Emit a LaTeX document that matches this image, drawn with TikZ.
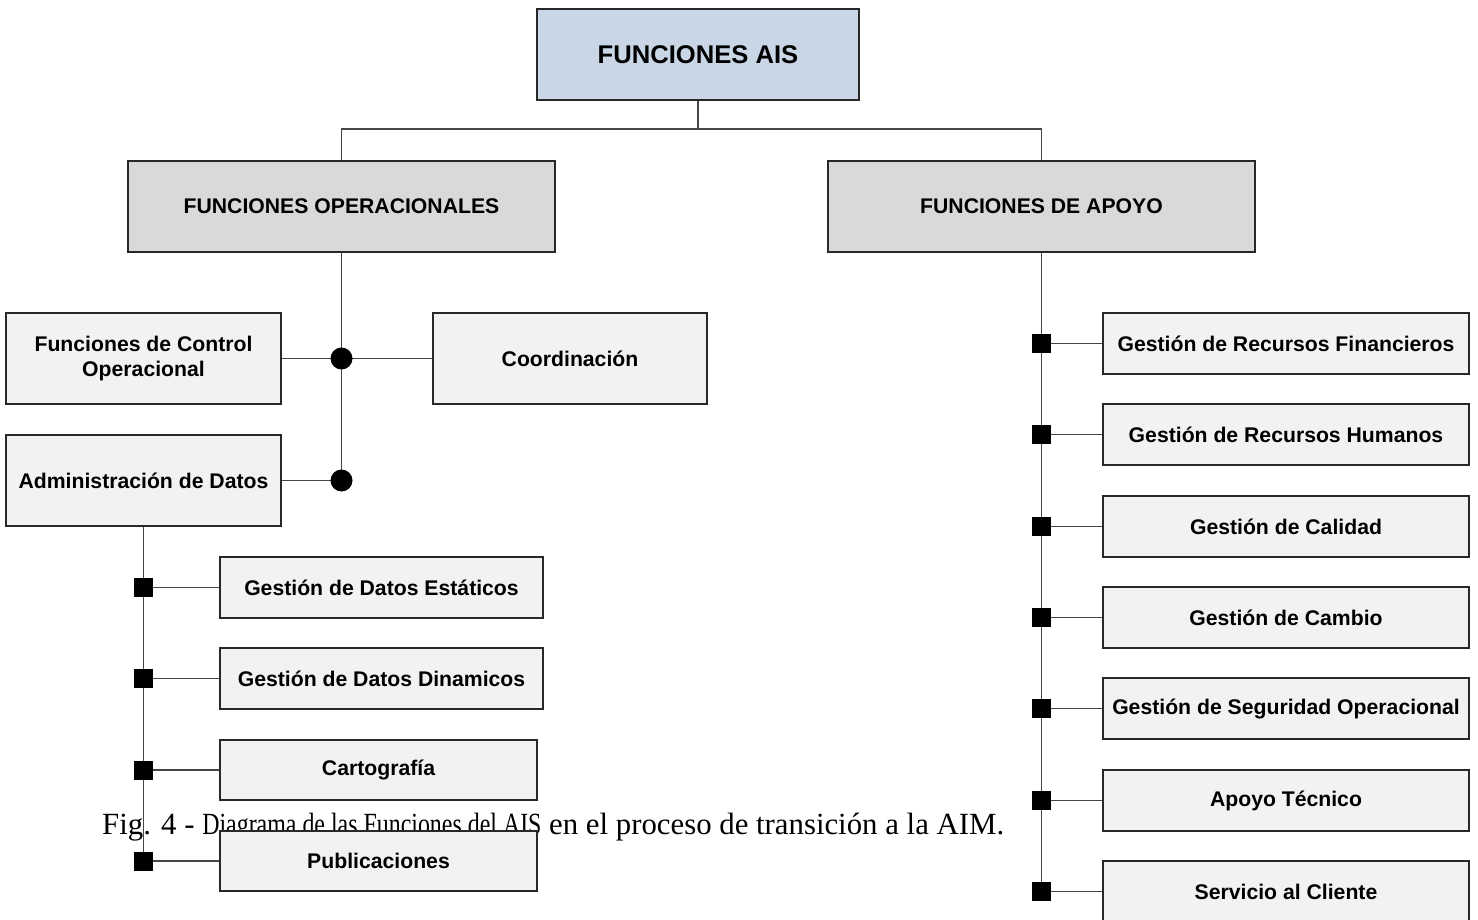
\documentclass[tikz,border=0pt]{standalone}
\usepackage{fontspec}
\setmainfont{Liberation Sans}
\newfontfamily\capfont{Liberation Serif}
\usetikzlibrary{shapes.geometric}
\definecolor{topblue}{RGB}{200,214,230}
\definecolor{midgray}{RGB}{217,217,217}
\definecolor{leafgray}{RGB}{242,242,242}
\definecolor{edgecol}{RGB}{40,40,40}
\definecolor{linecol}{RGB}{70,70,70}
\begin{document}
\begin{tikzpicture}[x=1pt,y=-1pt,
  box/.style={draw=edgecol, line width=1.2pt, rectangle, inner sep=0pt, align=center,
    font=\fontsize{21.2}{25}\selectfont\bfseries},
  topbox/.style={box, fill=topblue, minimum width=322pt, minimum height=91pt,
    font=\fontsize{25.6}{30}\selectfont\bfseries},
  midbox/.style={box, fill=midgray, minimum width=427pt, minimum height=91pt},
  bigleaf/.style={box, fill=leafgray, minimum width=275pt, minimum height=91pt},
  leafl/.style={box, fill=leafgray, minimum width=323pt, minimum height=61pt},
  leafs/.style={box, fill=leafgray, minimum width=317pt, minimum height=60pt},
  leafr/.style={box, fill=leafgray, minimum width=366pt, minimum height=61pt},
  conn/.style={draw=linecol, line width=1.2pt},
  dotmark/.style={circle, fill=black, draw=none, minimum size=22pt, inner sep=0pt},
  sqmark/.style={rectangle, fill=black, draw=none, minimum width=19pt, minimum height=19pt, inner sep=0pt}
]
\useasboundingbox (0,0) rectangle (1478,920);
\fill[white] (0,0) rectangle (1478,920);

% caption (drawn beneath the boxes)
\node[anchor=base west, inner sep=0pt, font=\capfont\fontsize{30.8}{36}\selectfont] (cap) at (102,834)
  {Fig. 4 -\ \scalebox{0.776}[1]{Diagrama de las Funciones del AIS}\ en el proceso de transición a la AIM.};

% nodes
\node[topbox] (top) at (698,54.5) {FUNCIONES AIS};
\node[midbox] (opl) at (341.5,206.5) {FUNCIONES OPERACIONALES};
\node[midbox] (apr) at (1041.5,206.5) {FUNCIONES DE APOYO};

\node[bigleaf] (ctrl) at (143.5,358.5) {Funciones de Control\\Operacional};
\node[bigleaf, minimum width=274pt] (coord) at (570,358.5) {Coordinación};
\node[bigleaf] (admin) at (143.5,480.5) {Administración de Datos};

\node[leafl] (est) at (381.5,587.5) {Gestión de Datos Estáticos};
\node[leafl] (din) at (381.5,678.5) {Gestión de Datos Dinamicos};
\node[leafs] (cart) at (378.5,770) {Cartografía};
\node[leafs] (pub) at (378.5,861) {Publicaciones};

\node[leafr] (r1) at (1286,343.5) {Gestión de Recursos Financieros};
\node[leafr] (r2) at (1286,434.5) {Gestión de Recursos Humanos};
\node[leafr] (r3) at (1286,526.5) {Gestión de Calidad};
\node[leafr] (r4) at (1286,617.5) {Gestión de Cambio};
\node[leafr] (r5) at (1286,708.5) {Gestión de Seguridad Operacional};
\node[leafr] (r6) at (1286,800.5) {Apoyo Técnico};
\node[leafr] (r7) at (1286,891.5) {Servicio al Cliente};

% top connectors
\coordinate (tj) at (698,129);
\draw[conn] (top.south) -- (tj);
\draw[conn] (opl.north) |- (tj) -| (apr.north);

% operational trunk
\coordinate (d1) at (opl.south |- ctrl.east);
\coordinate (d2) at (opl.south |- admin.east);
\draw[conn] (opl.south) -- (d2);
\draw[conn] (ctrl.east) -- (coord.west);
\draw[conn] (admin.east) -- (d2);
\node[dotmark] (dot1) at (d1) {};
\node[dotmark] (dot2) at (d2) {};

% data trunk
\draw[conn] (admin.south) -- (admin.south |- pub.west);
\foreach \n in {est,din,cart,pub}{
  \draw[conn] (admin.south |- \n.west) -- (\n.west);
  \node[sqmark] (sq-\n) at (admin.south |- \n.west) {};
}

% support trunk
\draw[conn] (apr.south) -- (apr.south |- r7.west);
\foreach \n in {r1,r2,r3,r4,r5,r6,r7}{
  \draw[conn] (apr.south |- \n.west) -- (\n.west);
  \node[sqmark] (sq-\n) at (apr.south |- \n.west) {};
}
\end{tikzpicture}
\end{document}
